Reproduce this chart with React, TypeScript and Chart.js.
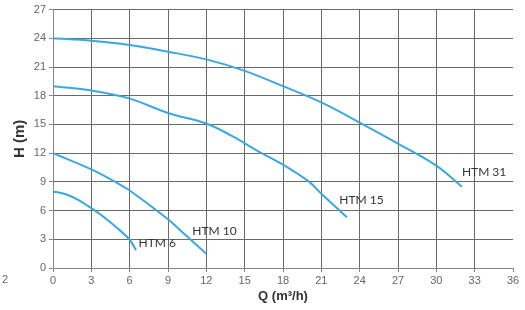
import React, { useEffect, useRef } from "react";
import { Chart, registerables } from "chart.js";

Chart.register(...registerables);

const seriesNames = ["HTM 6", "HTM 10", "HTM 15", "HTM 31"];

const q6 = [0, 1, 2, 3, 4, 5, 6, 6.5];
const h6 = [8.0, 7.7, 7.1, 6.25, 5.3, 4.2, 2.95, 1.85];

const q10 = [0, 3, 5, 6, 9, 10, 12];
const h10 = [12.0, 10.3, 8.9, 8.1, 5.1, 3.9, 1.5];

const q15 = [0, 3, 6, 9, 12, 14, 16, 18, 20, 21, 23];
const h15 = [19.0, 18.55, 17.7, 16.2, 15.1, 13.8, 12.25, 10.8, 9.05, 7.75, 5.3];

const q31 = [0, 3, 6, 9, 12, 15, 18, 21, 24, 27, 30, 32];
const h31 = [24.0, 23.75, 23.3, 22.6, 21.8, 20.6, 19.0, 17.3, 15.2, 13.0, 10.7, 8.5];

const labelQ = [6.7, 10.9, 22.4, 32.0];
const labelH = [2.6, 3.85, 7.05, 10.0];

const xTicks = [0, 3, 6, 9, 12, 15, 18, 21, 24, 27, 30, 33, 36];
const yTicks = [0, 3, 6, 9, 12, 15, 18, 21, 24, 27];

const strayText = "2";

const LINE = "#3aa8e0";

function pts(q: number[], h: number[]) {
  return q.map((x, i) => ({ x, y: h[i] }));
}

export default function App() {
  const ref = useRef<HTMLCanvasElement | null>(null);
  useEffect(() => {
    if (!ref.current) return;
    const curves = [pts(q6, h6), pts(q10, h10), pts(q15, h15), pts(q31, h31)];
    const labelPlugin = {
      id: "curveLabels",
      afterDatasetsDraw(chart: any) {
        const { ctx, scales } = chart;
        ctx.save();
        ctx.fillStyle = "#333";
        ctx.font = "12px Lato, 'Liberation Sans', sans-serif";
        ctx.textAlign = "left";
        ctx.textBaseline = "middle";
        seriesNames.forEach((n, i) => {
          ctx.fillText(n, scales.x.getPixelForValue(labelQ[i]), scales.y.getPixelForValue(labelH[i]));
        });
        ctx.fillStyle = "#666";
        ctx.font = "11px 'Liberation Sans', Arial, sans-serif";
        ctx.fillText(strayText, 2, 280);
        ctx.restore();
      },
    };
    const chart = new Chart(ref.current, {
      type: "line",
      data: {
        datasets: curves.map((d, i) => ({
          label: seriesNames[i],
          data: d,
          borderColor: LINE,
          borderWidth: 2,
          pointRadius: 0,
          fill: false,
          tension: 0.35,
        })),
      },
      options: {
        animation: false,
        responsive: false,
        maintainAspectRatio: false,
        layout: { padding: { top: 8, right: 12, left: 0, bottom: 0 } },
        plugins: { legend: { display: false }, tooltip: { enabled: false } },
        scales: {
          x: {
            type: "linear",
            min: 0,
            max: 36,
            afterBuildTicks: (s: any) => {
              s.ticks = xTicks.map((v) => ({ value: v }));
            },
            afterFit: (s: any) => {
              s.height = 42;
            },
            ticks: {
              color: "#666",
              font: { family: "'Liberation Sans', Arial, sans-serif", size: 11 },
              padding: 2,
              maxRotation: 0,
            },
            grid: {
              color: (c: any) => (c.tick && c.tick.value === 36 ? "rgba(0,0,0,0)" : "#6a6a6a"),
              lineWidth: 1,
              tickLength: 4,
              tickColor: "#888",
            },
            border: { color: "#888", width: 1 },
            title: {
              display: true,
              text: "Q (m³/h)",
              color: "#333",
              font: { family: "'Liberation Sans', Arial, sans-serif", size: 13, weight: "bold" },
              padding: { top: 0, bottom: 6 },
            },
          },
          y: {
            type: "linear",
            min: 0,
            max: 27,
            afterBuildTicks: (s: any) => {
              s.ticks = yTicks.map((v) => ({ value: v }));
            },
            afterFit: (s: any) => {
              s.width = 53;
            },
            ticks: {
              color: "#666",
              font: { family: "'Liberation Sans', Arial, sans-serif", size: 11 },
              padding: 3,
            },
            grid: {
              color: "#6a6a6a",
              lineWidth: 1,
              tickLength: 4,
              tickColor: "#888",
            },
            border: { color: "#888", width: 1 },
            title: {
              display: true,
              text: "H (m)",
              color: "#333",
              font: { family: "'Liberation Sans', Arial, sans-serif", size: 15, weight: "bold" },
              padding: { top: 11, bottom: 0 },
            },
          },
        },
      },
      plugins: [labelPlugin],
    } as any);
    return () => chart.destroy();
  }, []);
  return (
    <div style={{ position: "absolute", left: 0, top: 0, width: 525, height: 310, background: "#fff" }}>
      <canvas ref={ref} width={525} height={310} style={{ width: 525, height: 310 }} />
    </div>
  );
}
